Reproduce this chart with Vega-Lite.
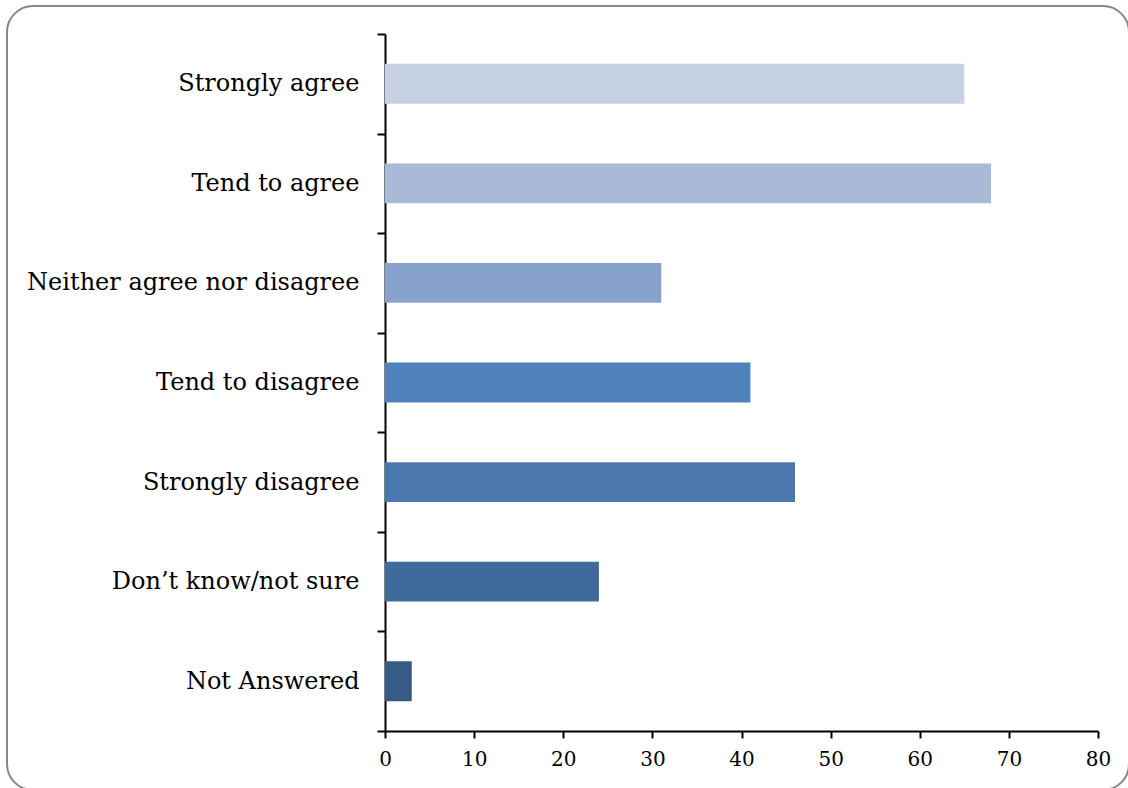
{
  "$schema": "https://vega.github.io/schema/vega-lite/v6.json",
  "autosize": {"type": "none"},
  "padding": {"left": 7, "top": 6, "right": 0, "bottom": 0},
  "width": 1122,
  "height": 784,
  "background": "white",
  "config": {
    "view": {"stroke": "#878787", "strokeWidth": 2, "cornerRadius": 26},
    "font": "DejaVu Serif",
    "axis": {"domainColor": "black", "domainWidth": 2, "tickColor": "black", "tickWidth": 2, "labelColor": "black", "grid": false, "title": null, "labelFont": "DejaVu Serif"}
  },
  "data": {
    "values": [
      {"response": "Strongly agree", "count": 65, "color": "#C5D0E3"},
      {"response": "Tend to agree", "count": 68, "color": "#A9BAD8"},
      {"response": "Neither agree nor disagree", "count": 31, "color": "#87A2CD"},
      {"response": "Tend to disagree", "count": 41, "color": "#4F81BD"},
      {"response": "Strongly disagree", "count": 46, "color": "#4A77AE"},
      {"response": "Don’t know/not sure", "count": 24, "color": "#3F6A9C"},
      {"response": "Not Answered", "count": 3, "color": "#365B85"}
    ]
  },
  "mark": {"type": "bar", "height": {"band": 0.4}},
  "encoding": {
    "y": {
      "field": "response", "type": "nominal", "sort": null,
      "scale": {"rangeMin": 28, "rangeMax": 725, "paddingInner": 0, "paddingOuter": 0},
      "axis": {"orient": "left", "offset": -378, "tickBand": "extent", "tickSize": 8, "labelPadding": 18, "labelFontSize": 24, "labelLimit": 400}
    },
    "x": {
      "field": "count", "type": "quantitative",
      "scale": {"domain": [0, 80], "rangeMin": 378, "rangeMax": 1091, "nice": false},
      "axis": {"orient": "bottom", "offset": -59, "values": [0, 10, 20, 30, 40, 50, 60, 70, 80], "tickSize": 7, "labelPadding": 11, "labelFontSize": 20, "labelFlush": false}
    },
    "color": {"field": "color", "type": "nominal", "scale": null, "legend": null}
  }
}
